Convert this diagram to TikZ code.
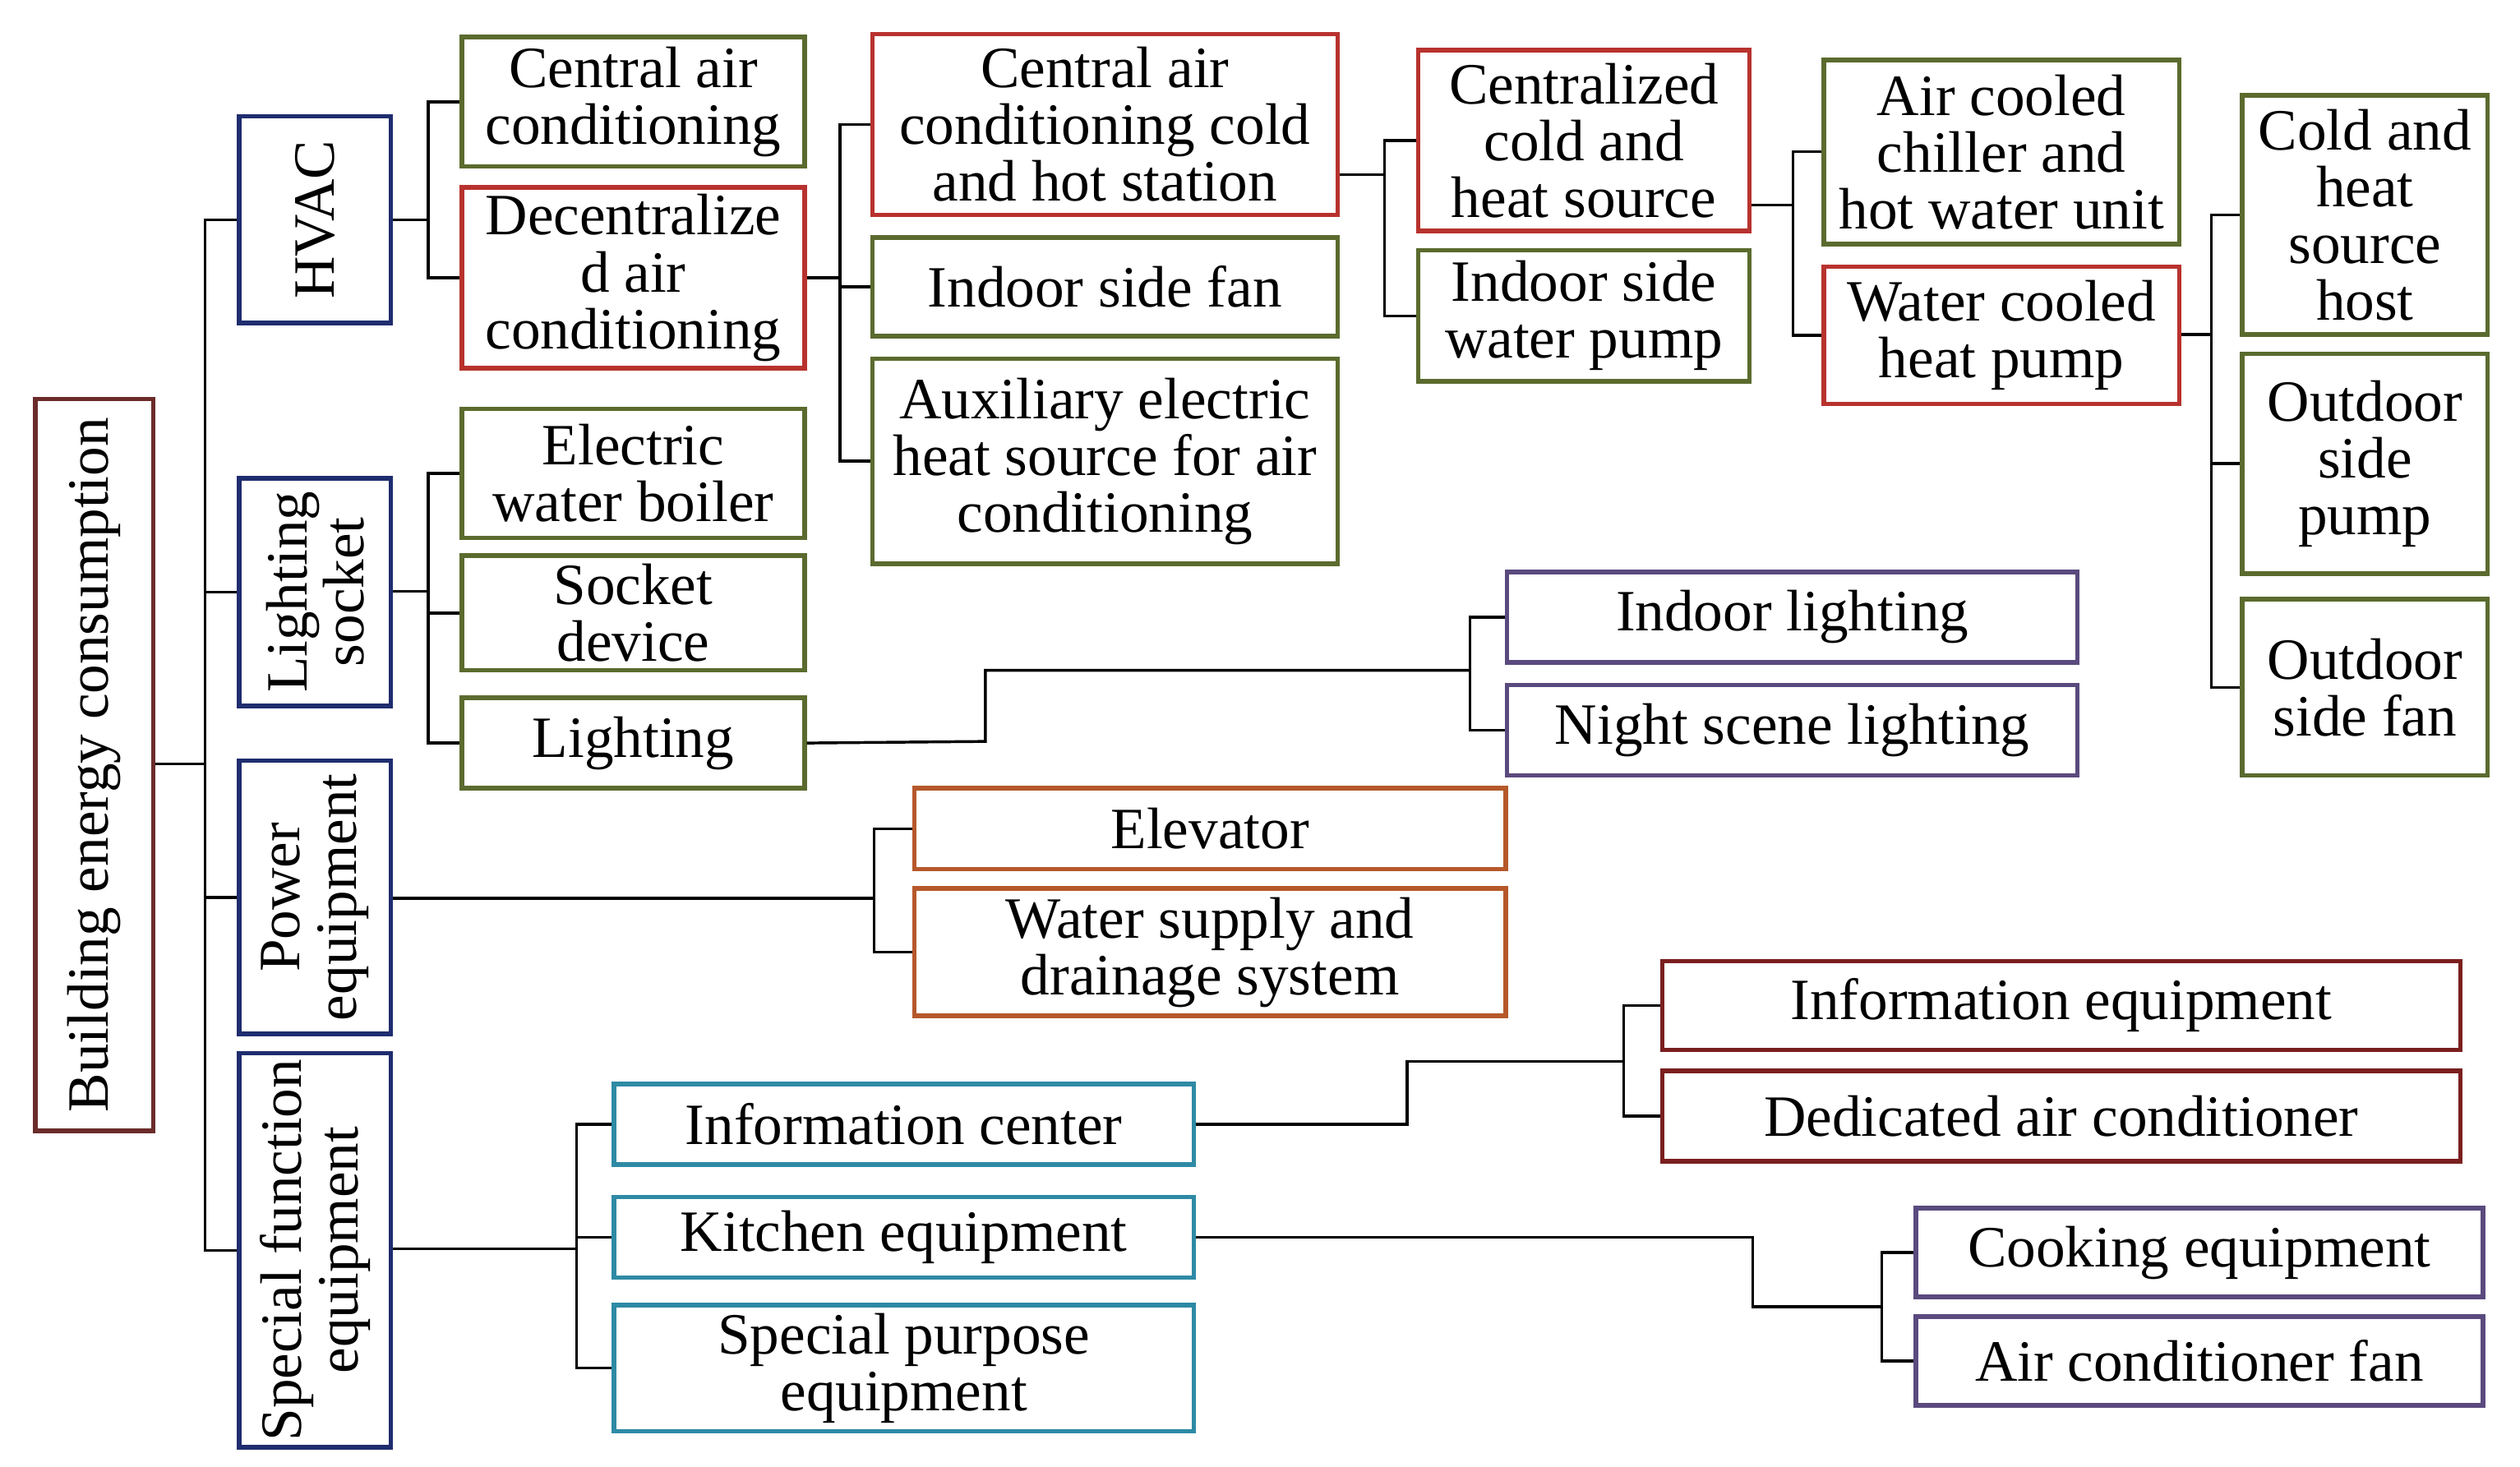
\documentclass[tikz,border=0pt]{standalone}
\usepackage{fontspec}
\setmainfont{Liberation Serif}
\definecolor{cg}{HTML}{5B6B2E}
\definecolor{cr}{HTML}{B8322E}
\definecolor{cp}{HTML}{5A4A7E}
\definecolor{co}{HTML}{B5582A}
\definecolor{ct}{HTML}{2E8AA5}
\definecolor{cb}{HTML}{1F2D6E}
\definecolor{cbr}{HTML}{6B2B2B}
\definecolor{cdr}{HTML}{7A1F1F}
\newcommand{\bx}[7]{%
 \node[draw=#6,line width=0.8pt,inner sep=0pt,minimum width={(#4-#2)*0.01cm},minimum height={(#5-#3)*0.01cm}] (#1) at ({(#2+#4)/2},{(#3+#5)/2}) {};
 \node[txt] (#1-t) at (#1) {#7};}
\newcommand{\vbx}[7]{%
 \node[draw=#6,line width=0.8pt,inner sep=0pt,minimum width={(#4-#2)*0.01cm},minimum height={(#5-#3)*0.01cm}] (#1) at ({(#2+#4)/2},{(#3+#5)/2}) {};
 \node[txt,rotate=90] (#1-t) at (#1) {#7};}
\begin{document}
\begin{tikzpicture}[x=0.01cm,y=-0.01cm,
 txt/.style={align=center,inner sep=0pt,font=\fontsize{10.3}{10}\selectfont},
 ln/.style={line width=0.5pt}]
\useasboundingbox (0,0) rectangle (1560,908);
\vbx{root}{22}{247}{95}{700}{cbr}{Building energy consumption}
\vbx{hvac}{148}{72}{242}{200}{cb}{HVAC}
\vbx{ls}{148}{296}{242}{437}{cb}{Lighting\\socket}
\vbx{pw}{148}{471}{242}{640}{cb}{Power\\equipment}
\vbx{sf}{148}{652}{242}{896}{cb}{Special function\\equipment}
\bx{cac}{286}{23}{498}{103}{cg}{Central air\\conditioning}
\bx{dac}{286}{116}{498}{228}{cr}{Decentralize\\d air\\conditioning}
\bx{st}{540}{21}{828}{133}{cr}{Central air\\conditioning cold\\and hot station}
\bx{isf}{540}{147}{828}{208}{cg}{Indoor side fan}
\bx{aux}{540}{222}{828}{349}{cg}{Auxiliary electric\\heat source for air\\conditioning}
\bx{chs}{878}{31}{1083}{143}{cr}{Centralized\\cold and\\heat source}
\bx{iwp}{878}{155}{1083}{236}{cg}{Indoor side\\water pump}
\bx{acc}{1129}{37}{1349}{151}{cg}{Air cooled\\chiller and\\hot water unit}
\bx{wch}{1129}{165}{1349}{250}{cr}{Water cooled\\heat pump}
\bx{host}{1388}{59}{1540}{207}{cg}{Cold and\\heat\\source\\host}
\bx{osp}{1388}{219}{1540}{355}{cg}{Outdoor\\side\\pump}
\bx{osf}{1388}{371}{1540}{480}{cg}{Outdoor\\side fan}
\bx{ewb}{286}{253}{498}{333}{cg}{Electric\\water boiler}
\bx{sd}{286}{344}{498}{415}{cg}{Socket\\device}
\bx{li}{286}{432}{498}{488}{cg}{Lighting}
\bx{il}{933}{354}{1286}{410}{cp}{Indoor lighting}
\bx{nl}{933}{424}{1286}{480}{cp}{Night scene lighting}
\bx{el}{566}{488}{932}{538}{co}{Elevator}
\bx{ws}{566}{550}{932}{629}{co}{Water supply and\\drainage system}
\bx{ic}{380}{671}{739}{721}{ct}{Information center}
\bx{ke}{380}{741}{739}{791}{ct}{Kitchen equipment}
\bx{sp}{380}{808}{739}{886}{ct}{Special purpose\\equipment}
\bx{ie}{1029}{595}{1523}{650}{cdr}{Information equipment}
\bx{da}{1029}{663}{1523}{719}{cdr}{Dedicated air conditioner}
\bx{ce}{1186}{748}{1537}{803}{cp}{Cooking equipment}
\bx{af}{1186}{815}{1537}{870}{cp}{Air conditioner fan}
% connectors
\coordinate (j0) at (127,473);
\draw[ln] (root.east|-j0) -- (j0);
\foreach \c in {hvac,ls,pw,sf} \draw[ln] (j0) |- (\c.west);
\coordinate (j1) at (265,136);
\draw[ln] (hvac.east|-j1) -- (j1);
\foreach \c in {cac,dac} \draw[ln] (j1) |- (\c.west);
\coordinate (j2) at (520,172);
\draw[ln] (dac.east|-j2) -- (j2);
\foreach \c in {st,isf,aux} \draw[ln] (j2) |- (\c.west);
\coordinate (j3) at (857,108);
\draw[ln] (st.east|-j3) -- (j3);
\foreach \c in {chs,iwp} \draw[ln] (j3) |- (\c.west);
\coordinate (j4) at (1110,127);
\draw[ln] (chs.east|-j4) -- (j4);
\foreach \c in {acc,wch} \draw[ln] (j4) |- (\c.west);
\coordinate (j5) at (1369,207);
\draw[ln] (wch.east|-j5) -- (j5);
\foreach \c in {host,osp,osf} \draw[ln] (j5) |- (\c.west);
\coordinate (j6) at (265,366);
\draw[ln] (ls.east|-j6) -- (j6);
\foreach \c in {ewb,sd,li} \draw[ln] (j6) |- (\c.west);
\coordinate (k7) at (610,459);
\coordinate (j7) at (910,415);
\draw[ln] (li.east) -- (k7) |- (j7);
\foreach \c in {il,nl} \draw[ln] (j7) |- (\c.west);
\coordinate (j8) at (541,556);
\draw[ln] (pw.east|-j8) -- (j8);
\foreach \c in {el,ws} \draw[ln] (j8) |- (\c.west);
\coordinate (j9) at (357,773);
\draw[ln] (sf.east|-j9) -- (j9);
\foreach \c in {ic,ke,sp} \draw[ln] (j9) |- (\c.west);
\coordinate (k10) at (871,696);
\coordinate (j10) at (1005,657);
\draw[ln] (ic.east) -- (k10) |- (j10);
\foreach \c in {ie,da} \draw[ln] (j10) |- (\c.west);
\coordinate (k11) at (1085,766);
\coordinate (j11) at (1165,809);
\draw[ln] (ke.east) -- (k11) |- (j11);
\foreach \c in {ce,af} \draw[ln] (j11) |- (\c.west);
\end{tikzpicture}
\end{document}
